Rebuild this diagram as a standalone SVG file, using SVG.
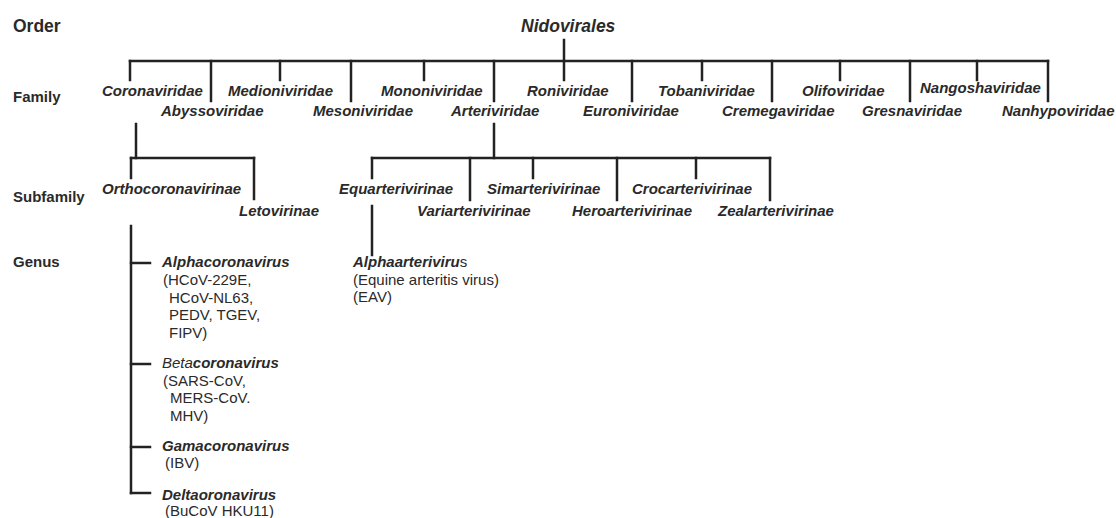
<svg xmlns="http://www.w3.org/2000/svg" width="1116" height="518" viewBox="0 0 1116 518">
<style>
.lbl{font-family:"Liberation Sans",Arial,sans-serif;font-weight:bold;font-size:15px;fill:#2a2a2a}
.tx{font-family:"Liberation Sans",Arial,sans-serif;font-weight:bold;font-style:italic;font-size:15px;fill:#2a2a2a}
.rg{font-family:"Liberation Sans",Arial,sans-serif;font-size:15px;fill:#2a2a2a}
.it{font-weight:normal}
.up{font-weight:normal;font-style:normal}
.c line{stroke:#222;stroke-width:2.5;stroke-linecap:square}
</style>
<rect width="1116" height="518" fill="#fff"/>
<g id="labels">
<text class="lbl" x="13" y="32" style="font-size:17.5px">Order</text>
<text class="lbl" x="13" y="102">Family</text>
<text class="lbl" x="13" y="202">Subfamily</text>
<text class="lbl" x="13" y="267">Genus</text>
</g>
<g class="c" id="connectors">
<line x1="130" y1="61" x2="1048" y2="61"/>
<line x1="564" y1="40" x2="564" y2="80"/>
<line x1="130" y1="61" x2="130" y2="80"/>
<line x1="280" y1="61" x2="280" y2="80"/>
<line x1="424" y1="61" x2="424" y2="80"/>
<line x1="702" y1="61" x2="702" y2="80"/>
<line x1="840" y1="61" x2="840" y2="80"/>
<line x1="977" y1="61" x2="977" y2="80"/>
<line x1="211" y1="61" x2="211" y2="101"/>
<line x1="351" y1="61" x2="351" y2="101"/>
<line x1="494" y1="61" x2="494" y2="101"/>
<line x1="632" y1="61" x2="632" y2="101"/>
<line x1="772" y1="61" x2="772" y2="101"/>
<line x1="910" y1="61" x2="910" y2="101"/>
<line x1="1048" y1="61" x2="1048" y2="101"/>
<line x1="136" y1="124" x2="136" y2="158"/>
<line x1="131" y1="158" x2="254" y2="158"/>
<line x1="131" y1="158" x2="131" y2="178"/>
<line x1="254" y1="158" x2="254" y2="199"/>
<line x1="494" y1="124" x2="494" y2="158"/>
<line x1="372" y1="158" x2="770" y2="158"/>
<line x1="372" y1="158" x2="372" y2="178"/>
<line x1="533" y1="158" x2="533" y2="178"/>
<line x1="696" y1="158" x2="696" y2="178"/>
<line x1="470" y1="158" x2="470" y2="200"/>
<line x1="617" y1="158" x2="617" y2="200"/>
<line x1="770" y1="158" x2="770" y2="200"/>
<line x1="372" y1="206" x2="372" y2="255"/>
<line x1="131" y1="226" x2="131" y2="493"/>
<line x1="131" y1="263" x2="150" y2="263"/>
<line x1="131" y1="364" x2="150" y2="364"/>
<line x1="131" y1="447" x2="150" y2="447"/>
<line x1="131" y1="493" x2="150" y2="493"/>
</g>
<g id="order"><text class="tx" x="521" y="32" style="font-size:17.5px">Nidovirales</text></g>
<g id="families">
<text class="tx" x="102" y="96">Coronaviridae</text>
<text class="tx" x="228" y="96">Medioniviridae</text>
<text class="tx" x="381" y="96">Mononiviridae</text>
<text class="tx" x="527" y="96">Roniviridae</text>
<text class="tx" x="658" y="96">Tobaniviridae</text>
<text class="tx" x="802" y="96">Olifoviridae</text>
<text class="tx" x="920" y="93">Nangoshaviridae</text>
<text class="tx" x="161" y="116">Abyssoviridae</text>
<text class="tx" x="313" y="116">Mesoniviridae</text>
<text class="tx" x="451" y="116">Arteriviridae</text>
<text class="tx" x="583" y="116">Euroniviridae</text>
<text class="tx" x="722" y="116">Cremegaviridae</text>
<text class="tx" x="862" y="116">Gresnaviridae</text>
<text class="tx" x="1002" y="116">Nanhypoviridae</text>
</g>
<g id="subfamilies">
<text class="tx" x="102" y="194">Orthocoronavirinae</text>
<text class="tx" x="239" y="216">Letovirinae</text>
<text class="tx" x="339" y="194">Equarterivirinae</text>
<text class="tx" x="487" y="194">Simarterivirinae</text>
<text class="tx" x="632" y="194">Crocarterivirinae</text>
<text class="tx" x="417" y="216">Variarterivirinae</text>
<text class="tx" x="572" y="216">Heroarterivirinae</text>
<text class="tx" x="718" y="216">Zealarterivirinae</text>
</g>
<g id="alphacoronavirus">
<text class="tx" x="162" y="267">Alphacoronavirus</text>
<text class="rg" x="163" y="285">(HCoV-229E,</text>
<text class="rg" x="169" y="302.5">HCoV-NL63,</text>
<text class="rg" x="169" y="320">PEDV, TGEV,</text>
<text class="rg" x="169" y="337.5">FIPV)</text>
</g>
<g id="betacoronavirus">
<text class="tx" x="162" y="368"><tspan class="it">Beta</tspan>coronavirus</text>
<text class="rg" x="163" y="385.5">(SARS-CoV,</text>
<text class="rg" x="170" y="403">MERS-CoV.</text>
<text class="rg" x="170" y="420.5">MHV)</text>
</g>
<g id="gamacoronavirus">
<text class="tx" x="162" y="451">Gamacoronavirus</text>
<text class="rg" x="165" y="468">(IBV)</text>
</g>
<g id="deltaoronavirus">
<text class="tx" x="162" y="500">Deltaoronavirus</text>
<text class="rg" x="165" y="516">(BuCoV HKU11)</text>
</g>
<g id="alphaarterivirus">
<text class="tx" x="353" y="267">Alphaarteriviru<tspan class="up">s</tspan></text>
<text class="rg" x="353" y="285">(Equine arteritis virus)</text>
<text class="rg" x="353" y="302">(EAV)</text>
</g>
</svg>
